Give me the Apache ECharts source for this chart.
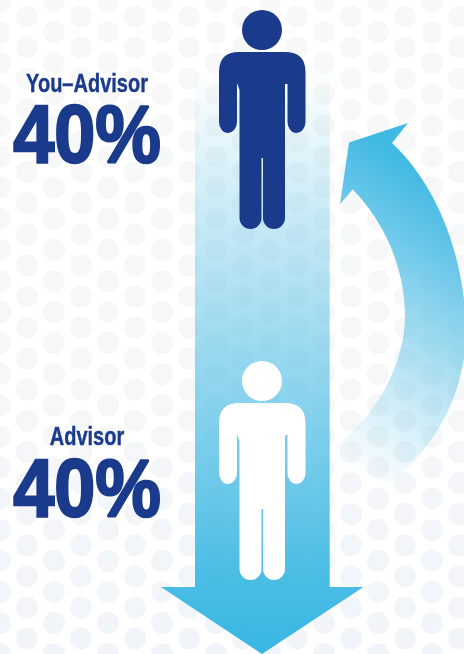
<!DOCTYPE html>
<html><head><meta charset="utf-8">
<style>html,body{margin:0;padding:0;background:#fff}#c{width:464px;height:654px}</style>
<script src="https://cdn.jsdelivr.net/npm/echarts@6/dist/echarts.min.js"></script>
</head><body><div id="c"></div>
<script>
const groupLabels = ['You–Advisor', 'Advisor'];
const shares = [40, 40];
const personColors = ['#1a3a8c', '#ffffff'];

const NAVY = '#1a3a8c';
const PERSON = 'M219 72 Q219 52 239 52 L285 52 Q305.5 52 305.5 72 L305.5 122 A9 11 0 0 1 287.5 122 L287.5 84 L285 84 L285 218 A11 11 0 0 1 263 218 L263 158 L261.5 158 L261.5 218 A11 11 0 0 1 239.5 218 L239.5 90 L237.5 84 L237 84 L237 122 A9 11 0 0 1 219 122 Z';
const personOffsets = [0, 351];
const textRows = [{ labelY: 85, valueY: 139 }, { labelY: 438, valueY: 493 }];

function pathEl(d, x, y, w, h, fill, dy) {
  return { type: 'path', y: dy || 0, shape: { pathData: d, x, y, width: w, height: h, layout: 'cover' }, style: { fill } };
}
function backdrop() {
  const dots = [];
  const fill = { type: 'linear', global: true, x: 0, y: 0, x2: 0, y2: 654,
    colorStops: [{ offset: 0, color: '#f8f8f8' }, { offset: 0.5, color: '#f6f7f8' }, { offset: 1, color: '#f1f5f9' }] };
  for (let c = 0; c <= 17; c++) {
    for (let r = -1; r <= 21; r++) {
      dots.push({ type: 'circle', shape: { cx: c * 27, cy: (c % 2 ? 16.5 : 1) + r * 31.1, r: 11 }, style: { fill } });
    }
  }
  return dots;
}
function arrows() {
  return [
    pathEl('M195 72 L329.7 72 L329.7 587 L363.5 587 L262 654 L161 587 L195 587 Z', 161, 72, 202.5, 582,
      { type: 'linear', global: true, x: 0, y: 72, x2: 0, y2: 654, colorStops: [
        { offset: 0, color: 'rgba(110,200,232,0)' },
        { offset: 0.25, color: 'rgba(110,200,232,0.38)' },
        { offset: 0.5, color: 'rgba(100,197,232,0.68)' },
        { offset: 0.85, color: 'rgba(72,188,228,0.97)' },
        { offset: 1, color: 'rgba(56,182,227,1)' }] }),
    pathEl('M349 142.5 L408 123 L392 143 C432 180 466 250 466 335 C464 400 430 460 370 497 L330 450 C375 420 405 365 405 315 C405 270 385 222 352.7 189.5 L340 204 Z', 330, 123, 136, 374,
      { type: 'linear', global: true, x: 320, y: 450, x2: 480, y2: 210, colorStops: [
        { offset: 0, color: 'rgba(120,205,235,0)' },
        { offset: 0.5, color: 'rgba(110,200,232,0.62)' },
        { offset: 0.8, color: 'rgba(95,195,232,0.95)' },
        { offset: 1, color: 'rgba(64,185,227,1)' }] })
  ];
}
function people() {
  const out = [];
  personOffsets.forEach((dy, i) => {
    out.push({ type: 'circle', y: dy, shape: { cx: 262, cy: 30, r: 20 }, style: { fill: personColors[i] } });
    out.push(pathEl(PERSON, 219, 52, 86.5, 177, personColors[i], dy));
  });
  return out;
}

const chart = echarts.init(document.getElementById('c'), null, { renderer: 'canvas' });
chart.setOption({
  animation: false,
  backgroundColor: '#ffffff',
  series: [{
    type: 'custom', coordinateSystem: 'none', silent: true, z: 1, data: [0],
    renderItem() { return { type: 'group', children: backdrop().concat(arrows(), people()) }; }
  }, {
    type: 'custom', coordinateSystem: 'none', silent: true, z: 10, data: shares,
    renderItem(params, api) {
      const i = params.dataIndex, row = textRows[i];
      return { type: 'group', children: [
        { type: 'text', x: 87, y: row.labelY, scaleX: 0.8, originX: 0, style: {
            text: groupLabels[i], fill: NAVY, stroke: NAVY, lineWidth: 0.4, align: 'center', verticalAlign: 'middle',
            font: 'bold 25px "Liberation Sans", sans-serif' } },
        { type: 'text', x: 87, y: row.valueY, scaleX: 0.9, style: {
            text: api.value(0) + '%', fill: NAVY, stroke: NAVY, lineWidth: 2.4,
            align: 'center', verticalAlign: 'middle',
            font: 'bold 82px "Liberation Sans", sans-serif' } }
      ] };
    }
  }]
});
</script></body></html>
